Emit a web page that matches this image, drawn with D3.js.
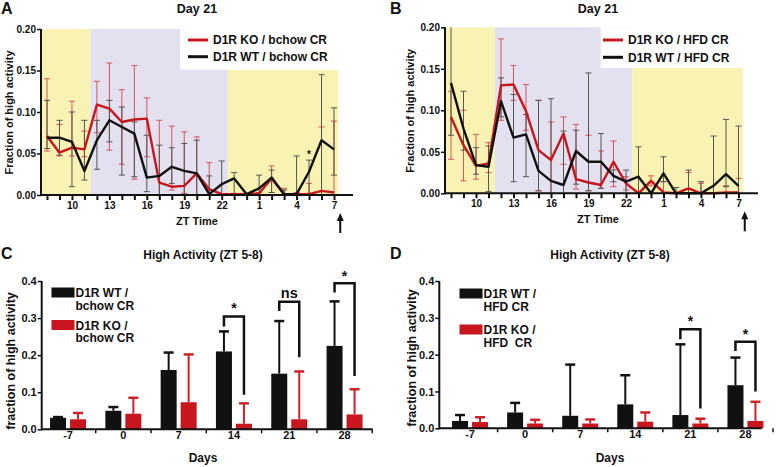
<!DOCTYPE html>
<html><head><meta charset="utf-8">
<script src="https://cdn.jsdelivr.net/npm/d3@7"></script>
<style>
body{margin:0;background:#fff;}
svg text{font-family:"Liberation Sans",Arial,Helvetica,sans-serif;font-weight:bold;fill:#111;}
</style></head><body>
<svg id="chart" width="777" height="467"></svg>
<script>
// ---------- DATA ----------
const ztHours = [8,9,10,11,12,13,14,15,16,17,18,19,20,21,22,23,0,1,2,3,4,5,6,7];

// Panel A (bchow CR, Day 21)
const aKoMean  = [0.071,0.051,0.057,0.055,0.109,0.104,0.088,0.091,0.092,0.015,0.010,0.011,0.026,0.007,0.001,0.001,0.001,0.002,0.020,0.001,0.001,0.001,0.005,0.003];
const aKoUpper = [0.140,0.085,0.113,0.077,0.137,0.159,0.127,0.156,0.117,0.090,0.083,0.076,0.070,0.039,0.001,0.001,0.001,0.003,0.035,0.008,0.003,0.014,0.082,0.089];
const aKoLower = [0.053,0.047,0.047,0.046,0.075,0.054,0.037,0.019,0.046,0.000,0.006,0.002,0.000,0.000,0.001,0.001,0.001,0.001,0.003,0.000,0.000,0.000,0.000,0.000];
const aWtMean  = [0.069,0.069,0.064,0.029,0.066,0.090,0.082,0.074,0.021,0.023,0.034,0.029,0.026,0.001,0.013,0.020,0.001,0.008,0.021,0.001,0.001,0.028,0.066,0.055];
const aWtUpper = [0.114,0.090,0.100,0.090,0.090,0.114,0.106,0.088,0.072,0.060,0.057,0.062,0.066,0.023,0.041,0.027,0.001,0.024,0.030,0.006,0.047,0.042,0.145,0.105];
const aWtLower = [0.056,0.048,0.010,0.018,0.031,0.064,0.024,0.022,0.004,0.000,0.014,0.000,0.000,0.000,0.000,0.002,0.001,0.000,0.003,0.000,0.000,0.002,0.000,0.024];

// Panel B (HFD CR, Day 21)
const bKoMean  = [0.092,0.058,0.033,0.036,0.130,0.131,0.099,0.052,0.040,0.072,0.017,0.013,0.010,0.038,0.012,0.000,0.015,0.001,0.000,0.006,0.000,0.000,0.001,0.001];
const bKoUpper = [0.123,0.100,0.071,0.061,0.186,0.154,0.131,0.112,0.086,0.092,0.083,0.070,0.051,0.063,0.020,0.000,0.021,0.014,0.001,0.025,0.012,0.001,0.009,0.018];
const bKoLower = [0.041,0.015,0.017,0.025,0.088,0.112,0.076,0.003,0.000,0.035,0.005,0.003,0.006,0.008,0.004,0.000,0.009,0.000,0.000,0.000,0.000,0.000,0.000,0.000];
const bWtMean  = [0.133,0.078,0.034,0.032,0.111,0.067,0.071,0.027,0.015,0.010,0.051,0.038,0.038,0.021,0.014,0.020,0.000,0.024,0.000,0.000,0.000,0.009,0.023,0.009];
const bWtUpper = [0.210,0.123,0.055,0.057,0.139,0.119,0.095,0.112,0.114,0.075,0.076,0.145,0.072,0.028,0.028,0.056,0.000,0.044,0.007,0.028,0.014,0.069,0.089,0.081];
const bWtLower = [0.070,0.052,0.023,0.002,0.092,0.014,0.020,0.003,0.000,0.000,0.011,0.003,0.006,0.014,0.000,0.000,0.000,0.014,0.000,0.000,0.000,0.000,0.008,0.000];

// Light/dark phase bands (in hour-index units from ZT8)
const bandFrom  = [-0.5, 3.5, 14.5];
const bandTo    = [3.5, 14.5, 23.35];
const bandTop   = [0.2, 0.2, 0.151];
const bandColor = ["#f8f3b2", "#e3e0f0", "#f8f3b2"];

// Panels C & D
const days = ["-7","0","7","14","21","28"];
const cWtMean = [0.031,0.050,0.160,0.210,0.150,0.225];
const cWtErr  = [0.033,0.060,0.207,0.264,0.292,0.345];
const cKoMean = [0.027,0.042,0.073,0.015,0.027,0.040];
const cKoErr  = [0.044,0.085,0.202,0.070,0.156,0.108];
const dWtMean = [0.020,0.043,0.034,0.065,0.036,0.117];
const dWtErr  = [0.036,0.069,0.173,0.144,0.228,0.192];
const dKoMean = [0.017,0.013,0.013,0.018,0.013,0.020];
const dKoErr  = [0.030,0.023,0.024,0.043,0.026,0.072];

const cSigDays = ["14","21","28"], cSigText = ["*","ns","*"];
const cSigTop = [0.304,0.344,0.394], cSigLeft = [0.277,0.319,0.369], cSigRight = [0.093,0.194,0.144], cSigLabelY = [0.335,0.367,0.421];
const dSigDays = ["21","28"], dSigText = ["*","*"];
const dSigTop = [0.269,0.235], dSigLeft = [0.242,0.210], dSigRight = [0.054,0.100], dSigLabelY = [0.299,0.262];

// ---------- DRAW ----------
const svg = d3.select("#chart");
const RED = "#c8161e", BLACK = "#111";

function txt(g, x, y, s, size, anchor, extra) {
  const t = g.append("text").attr("x", x).attr("y", y).attr("font-size", size)
    .attr("text-anchor", anchor || "start").style("white-space","pre").text(s);
  if (extra) extra(t);
  return t;
}

function linePanel(p) {
  const g = svg.append("g");
  const x = d3.scaleLinear().domain([0, 23]).range([p.x8, p.x7]);
  const y = d3.scaleLinear().domain([0, 0.2]).range([p.y0, p.yTop]);

  bandFrom.forEach((f, i) => {
    g.append("rect").attr("x", x(f)).attr("width", x(bandTo[i]) - x(f))
      .attr("y", y(bandTop[i])).attr("height", y(0) - y(bandTop[i])).attr("fill", bandColor[i]);
  });
  g.append("rect").attr("x", p.boxX0).attr("width", p.boxX1 - p.boxX0)
    .attr("y", y(0.2)).attr("height", y(0.151) - y(0.2)).attr("fill", "#fff");

  const series = [
    {mean: p.koMean, up: p.koUp, lo: p.koLo, line: RED, err: "#d8555a"},
    {mean: p.wtMean, up: p.wtUp, lo: p.wtLo, line: BLACK, err: "#555"}
  ];
  series.forEach(s => {
    const eg = g.append("g").attr("stroke", s.err).attr("stroke-width", 1);
    s.mean.forEach((m, i) => {
      if (s.up[i] - s.lo[i] < 0.0015) return;
      const top = Math.min(s.up[i], 0.2);
      eg.append("line").attr("x1", x(i)).attr("x2", x(i)).attr("y1", y(s.lo[i])).attr("y2", y(top));
      if (s.up[i] <= 0.2)
        eg.append("line").attr("x1", x(i) - 3).attr("x2", x(i) + 3).attr("y1", y(s.up[i])).attr("y2", y(s.up[i]));
      if (s.lo[i] > 0.001)
        eg.append("line").attr("x1", x(i) - 3).attr("x2", x(i) + 3).attr("y1", y(s.lo[i])).attr("y2", y(s.lo[i]));
    });
  });
  const line = d3.line().x((d, i) => x(i)).y(d => y(d));
  series.forEach(s => {
    g.append("path").datum(s.mean).attr("d", line).attr("fill", "none")
      .attr("stroke", s.line).attr("stroke-width", 2.4).attr("stroke-linejoin", "round");
  });

  // axes
  const xa = g.append("g").attr("transform", `translate(0,${p.y0})`)
    .call(d3.axisBottom(x).tickValues(d3.range(24)).tickSize(5).tickPadding(2)
      .tickFormat(i => i % 3 === 2 ? ztHours[i] : ""));
  xa.select(".domain").remove();
  xa.selectAll(".tick line").attr("stroke", BLACK).attr("stroke-width", 2);
  xa.selectAll(".tick text").attr("font-size", 10).attr("fill", BLACK).attr("font-family", null);
  const ya = g.append("g").attr("transform", `translate(${p.axisX},0)`)
    .call(d3.axisLeft(y).tickValues([0, 0.05, 0.1, 0.15, 0.2]).tickFormat(d3.format(".2f")).tickSize(4).tickPadding(1));
  ya.select(".domain").remove();
  ya.selectAll(".tick line").attr("stroke", BLACK).attr("stroke-width", 1.5);
  ya.selectAll(".tick text").attr("font-size", 10).attr("fill", BLACK).attr("font-family", null);
  g.append("line").attr("x1", p.axisX).attr("x2", p.axisEnd).attr("y1", p.y0).attr("y2", p.y0)
    .attr("stroke", BLACK).attr("stroke-width", 2);
  g.append("line").attr("x1", p.axisX).attr("x2", p.axisX).attr("y1", y(0.2)).attr("y2", p.y0 + 1)
    .attr("stroke", BLACK).attr("stroke-width", 2);

  // legend
  [[RED, p.legKo], [BLACK, p.legWt]].forEach((l, k) => {
    const ly = p.legY[k];
    g.append("line").attr("x1", p.legX).attr("x2", p.legX + 20).attr("y1", ly).attr("y2", ly)
      .attr("stroke", l[0]).attr("stroke-width", 3);
    txt(g, p.legX + 25, ly + 4.3, l[1], 12);
  });

  // arrow at end
  const ax = x(23.5);
  g.append("line").attr("x1", ax).attr("x2", ax).attr("y1", p.y0 + 24).attr("y2", p.y0 + 38)
    .attr("stroke", BLACK).attr("stroke-width", 2);
  g.append("path").attr("d", `M${ax},${p.y0 + 18} L${ax - 3.5},${p.y0 + 26} L${ax + 3.5},${p.y0 + 26} Z`).attr("fill", BLACK);

  // titles
  txt(g, p.titleX, 13, "Day 21", 12.5, "middle");
  txt(g, p.letterX, 14, p.letter, 16);
  txt(g, p.titleX, p.y0 + 30, "ZT Time", 11, "middle");
  txt(g, 0, 0, "Fraction of high activity", 11, "middle",
    t => t.attr("transform", `translate(${p.ylabX},${(p.y0 + y(0.2)) / 2 + 0.5}) rotate(-90)`));
  if (p.star) txt(g, x(p.star[0]), y(p.star[1]) + 6, "*", 10, "middle");
}

linePanel({
  x8: 47, x7: 334, axisX: 41, axisEnd: 353, y0: 195, yTop: 29, boxX0: 180, boxX1: 340,
  koMean: aKoMean, koUp: aKoUpper, koLo: aKoLower, wtMean: aWtMean, wtUp: aWtUpper, wtLo: aWtLower,
  legX: 188, legY: [40, 56.7], legKo: "D1R KO / bchow CR", legWt: "D1R WT / bchow CR",
  titleX: 197, letterX: 1, letter: "A", ylabX: 12.5, star: [21, 0.052]
});
linePanel({
  x8: 451, x7: 738.5, axisX: 445, axisEnd: 758, y0: 193.3, yTop: 27.3, boxX0: 600.7, boxX1: 743,
  koMean: bKoMean, koUp: bKoUpper, koLo: bKoLower, wtMean: bWtMean, wtUp: bWtUpper, wtLo: bWtLower,
  legX: 603, legY: [40, 57.3], legKo: "D1R KO / HFD CR", legWt: "D1R WT / HFD CR",
  titleX: 598, letterX: 390, letter: "B", ylabX: 414, star: null
});

function barPanel(p) {
  const g = svg.append("g");
  const x = d3.scaleBand().domain(days).range([p.bx0, p.bx1]);
  const y = d3.scaleLinear().domain([0, 0.4]).range([p.y0, p.yTop]);
  const cx = d => x(d) + x.bandwidth() / 2;
  const bw = 16, gap = 4;
  const groups = [
    {mean: p.wtMean, err: p.wtErr, fill: BLACK, errc: BLACK, off: -gap / 2 - bw},
    {mean: p.koMean, err: p.koErr, fill: RED, errc: "#cc2229", off: gap / 2}
  ];
  groups.forEach(s => {
    days.forEach((d, i) => {
      const bc = cx(d) + s.off + bw / 2;
      g.append("line").attr("x1", bc).attr("x2", bc).attr("y1", y(s.mean[i])).attr("y2", y(s.err[i]))
        .attr("stroke", s.errc).attr("stroke-width", 2);
      g.append("line").attr("x1", bc - 5).attr("x2", bc + 5).attr("y1", y(s.err[i])).attr("y2", y(s.err[i]))
        .attr("stroke", s.errc).attr("stroke-width", 2.5);
      g.append("rect").attr("x", cx(d) + s.off).attr("width", bw)
        .attr("y", y(s.mean[i])).attr("height", y(0) - y(s.mean[i])).attr("fill", s.fill);
    });
  });
  // significance brackets
  p.sigDays.forEach((d, k) => {
    const xl = cx(d) - gap / 2 - bw / 2, xr = cx(d) + gap / 2 + bw / 2;
    g.append("path").attr("d", `M${xl},${y(p.sigLeft[k])} V${y(p.sigTop[k])} H${xr} V${y(p.sigRight[k])}`)
      .attr("fill", "none").attr("stroke", BLACK).attr("stroke-width", 2.5);
    const lab = p.sigText[k];
    txt(g, (xl + xr) / 2, y(p.sigLabelY[k]) + (lab === "*" ? 7.5 : 4.5), lab, lab === "*" ? 14 : 14.5, "middle",
      t => { if (lab === "ns") t.attr("font-weight", "normal"); });
  });
  // axes
  const xa = g.append("g").attr("transform", `translate(0,${p.y0})`)
    .call(d3.axisBottom(x).tickSize(0).tickPadding(2));
  xa.select(".domain").remove();
  xa.selectAll(".tick text").attr("font-size", 11).attr("fill", BLACK).attr("font-family", null);
  days.concat(["end"]).forEach((d, i) => {
    const bx = i < days.length ? x(d) : p.bx1;
    if (i === 0) return;
    g.append("line").attr("x1", bx).attr("x2", bx).attr("y1", p.y0).attr("y2", p.y0 + 4)
      .attr("stroke", BLACK).attr("stroke-width", 1.5);
  });
  const ya = g.append("g").attr("transform", `translate(${p.axisX},0)`)
    .call(d3.axisLeft(y).ticks(4).tickFormat(d3.format(".1f")).tickSize(4).tickPadding(1));
  ya.select(".domain").remove();
  ya.selectAll(".tick line").attr("stroke", BLACK).attr("stroke-width", 1.5);
  ya.selectAll(".tick text").attr("font-size", 11).attr("fill", BLACK).attr("font-family", null);
  g.append("line").attr("x1", p.axisX).attr("x2", p.axisEnd).attr("y1", p.y0).attr("y2", p.y0)
    .attr("stroke", BLACK).attr("stroke-width", 2);
  g.append("line").attr("x1", p.axisX).attr("x2", p.axisX).attr("y1", y(0.4)).attr("y2", p.y0 + 1)
    .attr("stroke", BLACK).attr("stroke-width", 2);

  // legend
  g.append("rect").attr("x", p.legX).attr("y", p.legY[0]).attr("width", 23).attr("height", 10).attr("fill", BLACK);
  g.append("rect").attr("x", p.legX).attr("y", p.legY[1]).attr("width", 23).attr("height", 10).attr("fill", RED);
  txt(g, p.legX + 24, p.legY[0] + 9.5, p.legWt[0], 12);
  txt(g, p.legX + 24, p.legY[0] + 22, p.legWt[1], 12);
  txt(g, p.legX + 24, p.legY[1] + 9.5, p.legKo[0], 12);
  txt(g, p.legX + 24, p.legY[1] + 22, p.legKo[1], 12);

  txt(g, p.titleX, 258.5, "High Activity (ZT 5-8)", 12, "middle");
  txt(g, p.letterX, 259, p.letter, 16);
  txt(g, p.titleX, 462, "Days", 12, "middle");
  txt(g, 0, 0, "fraction of high activity", 12.5, "middle",
    t => t.attr("transform", `translate(${p.ylabX},${p.ylabY}) rotate(-90)`));
}

barPanel({
  bx0: 40.4, bx1: 372.2, axisX: 41.7, axisEnd: 372.7, y0: 429.3, yTop: 281,
  wtMean: cWtMean, wtErr: cWtErr, koMean: cKoMean, koErr: cKoErr,
  sigDays: cSigDays, sigText: cSigText, sigTop: cSigTop, sigLeft: cSigLeft, sigRight: cSigRight, sigLabelY: cSigLabelY,
  legX: 51.5, legY: [287.5, 320], legWt: ["D1R WT /", "bchow CR"], legKo: ["D1R KO /", "bchow CR"],
  titleX: 203, letterX: 1, letter: "C", ylabX: 14.5, ylabY: 361
});
barPanel({
  bx0: 442.5, bx1: 773, axisX: 439.3, axisEnd: 761.7, y0: 428.3, yTop: 281,
  wtMean: dWtMean, wtErr: dWtErr, koMean: dKoMean, koErr: dKoErr,
  sigDays: dSigDays, sigText: dSigText, sigTop: dSigTop, sigLeft: dSigLeft, sigRight: dSigRight, sigLabelY: dSigLabelY,
  legX: 459.5, legY: [288.5, 324.5], legWt: ["D1R WT /", "HFD CR"], legKo: ["D1R KO /", "HFD  CR"],
  titleX: 610, letterX: 390, letter: "D", ylabX: 416, ylabY: 358
});
</script>
</body></html>
